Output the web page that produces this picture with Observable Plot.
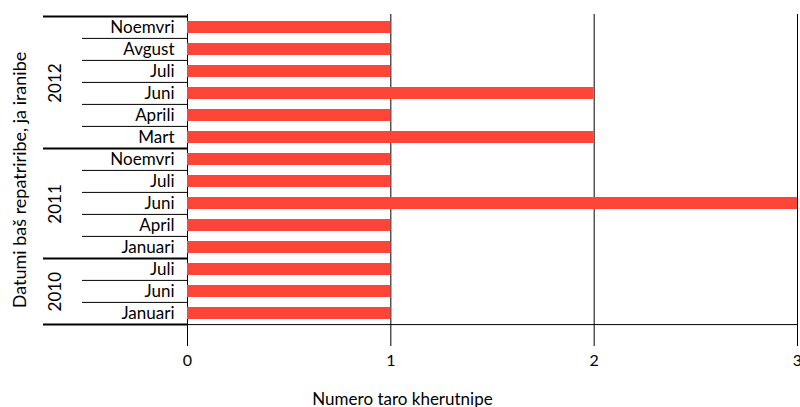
<!DOCTYPE html>
<html><head><meta charset="utf-8">
<script src="https://cdn.jsdelivr.net/npm/d3@7"></script>
<script src="https://cdn.jsdelivr.net/npm/@observablehq/plot@0.6"></script>
<style>body{margin:0;background:#fff}</style>
</head><body><div id="chart"></div>
<script>
// Data (top to bottom)
const years  = ["2012","2012","2012","2012","2012","2012","2011","2011","2011","2011","2011","2010","2010","2010"];
const months = ["Noemvri","Avgust","Juli","Juni","Aprili","Mart","Noemvri","Juli","Juni","April","Januari","Juli","Juni","Januari"];
const counts = [1,1,1,2,1,2,1,1,3,1,1,1,1,1];
const xTicks = [0,1,2,3];
const xTitle = "Numero taro kherutnipe";
const yTitle = "Datumi baš repatriribe, ja iranibe";

const rows = months.map((m,i)=>({key: years[i]+"|"+m, year: years[i], month: m, count: counts[i]}));
const W=800, H=407, mT=14, mB=82, mL=187, mR=3;
const step = (H-mT-mB)/rows.length;
const firstOfGroup = rows.filter((r,i)=> i===0 || rows[i-1].year!==r.year);
const inner = rows.filter((r,i)=> i>0 && rows[i-1].year===r.year);
const last = rows.slice(-1);
const yearList = Array.from(new Set(years));
const groups = yearList.map(y => {const g = rows.filter(r=>r.year===y); return {year:y, n:g.length, first:g[0].key};});

const black = "#000";
const marks = [
  Plot.ruleX(xTicks, {stroke:black, strokeWidth:1}),
  Plot.barX(rows, {x:"count", y:"key", fill:"#ff4438", insetTop:5, insetBottom:5}),
  Plot.ruleY(inner, {y:"key", x1:0, x2:0, insetLeft:-105, dy:-step/2, stroke:black, strokeWidth:1}),
  Plot.ruleY(firstOfGroup, {y:"key", x1:0, x2:0, insetLeft:-144, dy:-step/2, stroke:black, strokeWidth:2}),
  Plot.ruleY(last, {y:"key", x1:0, x2:0, insetLeft:-144, dy:step/2, stroke:black, strokeWidth:2}),
  Plot.ruleY(last, {y:"key", x1:xTicks[0], x2:xTicks[xTicks.length-1], dy:step/2, stroke:black, strokeWidth:1}),
  Plot.axisY({tickSize:0, tickPadding:13, tickFormat: k => k.split("|")[1], fontSize:17, label:null}),
  Plot.axisX({ticks:xTicks, tickSize:21, tickPadding:8, tickFormat: d3.format("d"), fontSize:16, label:null}),
  ...groups.map(g => Plot.text([g], {x:()=>0, y:"first", text:"year", dx:-132, dy:(g.n-1)/2*step, rotate:-90, fontSize:17, textAnchor:"middle", lineAnchor:"middle"})),
  Plot.text([xTitle], {text:d=>d, frameAnchor:"bottom", dx:-90, dy:79, lineAnchor:"bottom", fontSize:17}),
  Plot.text([yTitle], {text:d=>d, frameAnchor:"left", dx:-167, dy:10, rotate:-90, textAnchor:"middle", lineAnchor:"middle", fontSize:18})
];

const chart = Plot.plot({
  width: W, height: H,
  marginTop: mT, marginBottom: mB, marginLeft: mL, marginRight: mR,
  style: {fontFamily: "Lato, sans-serif", fontSize: "17px", color: "#000", background: "#fff", overflow: "visible"},
  x: {domain: [xTicks[0], xTicks[xTicks.length-1]], axis: null},
  y: {type: "band", domain: rows.map(r=>r.key), padding: 0, axis: null},
  marks
});
document.getElementById("chart").appendChild(chart);
</script>
</body></html>
